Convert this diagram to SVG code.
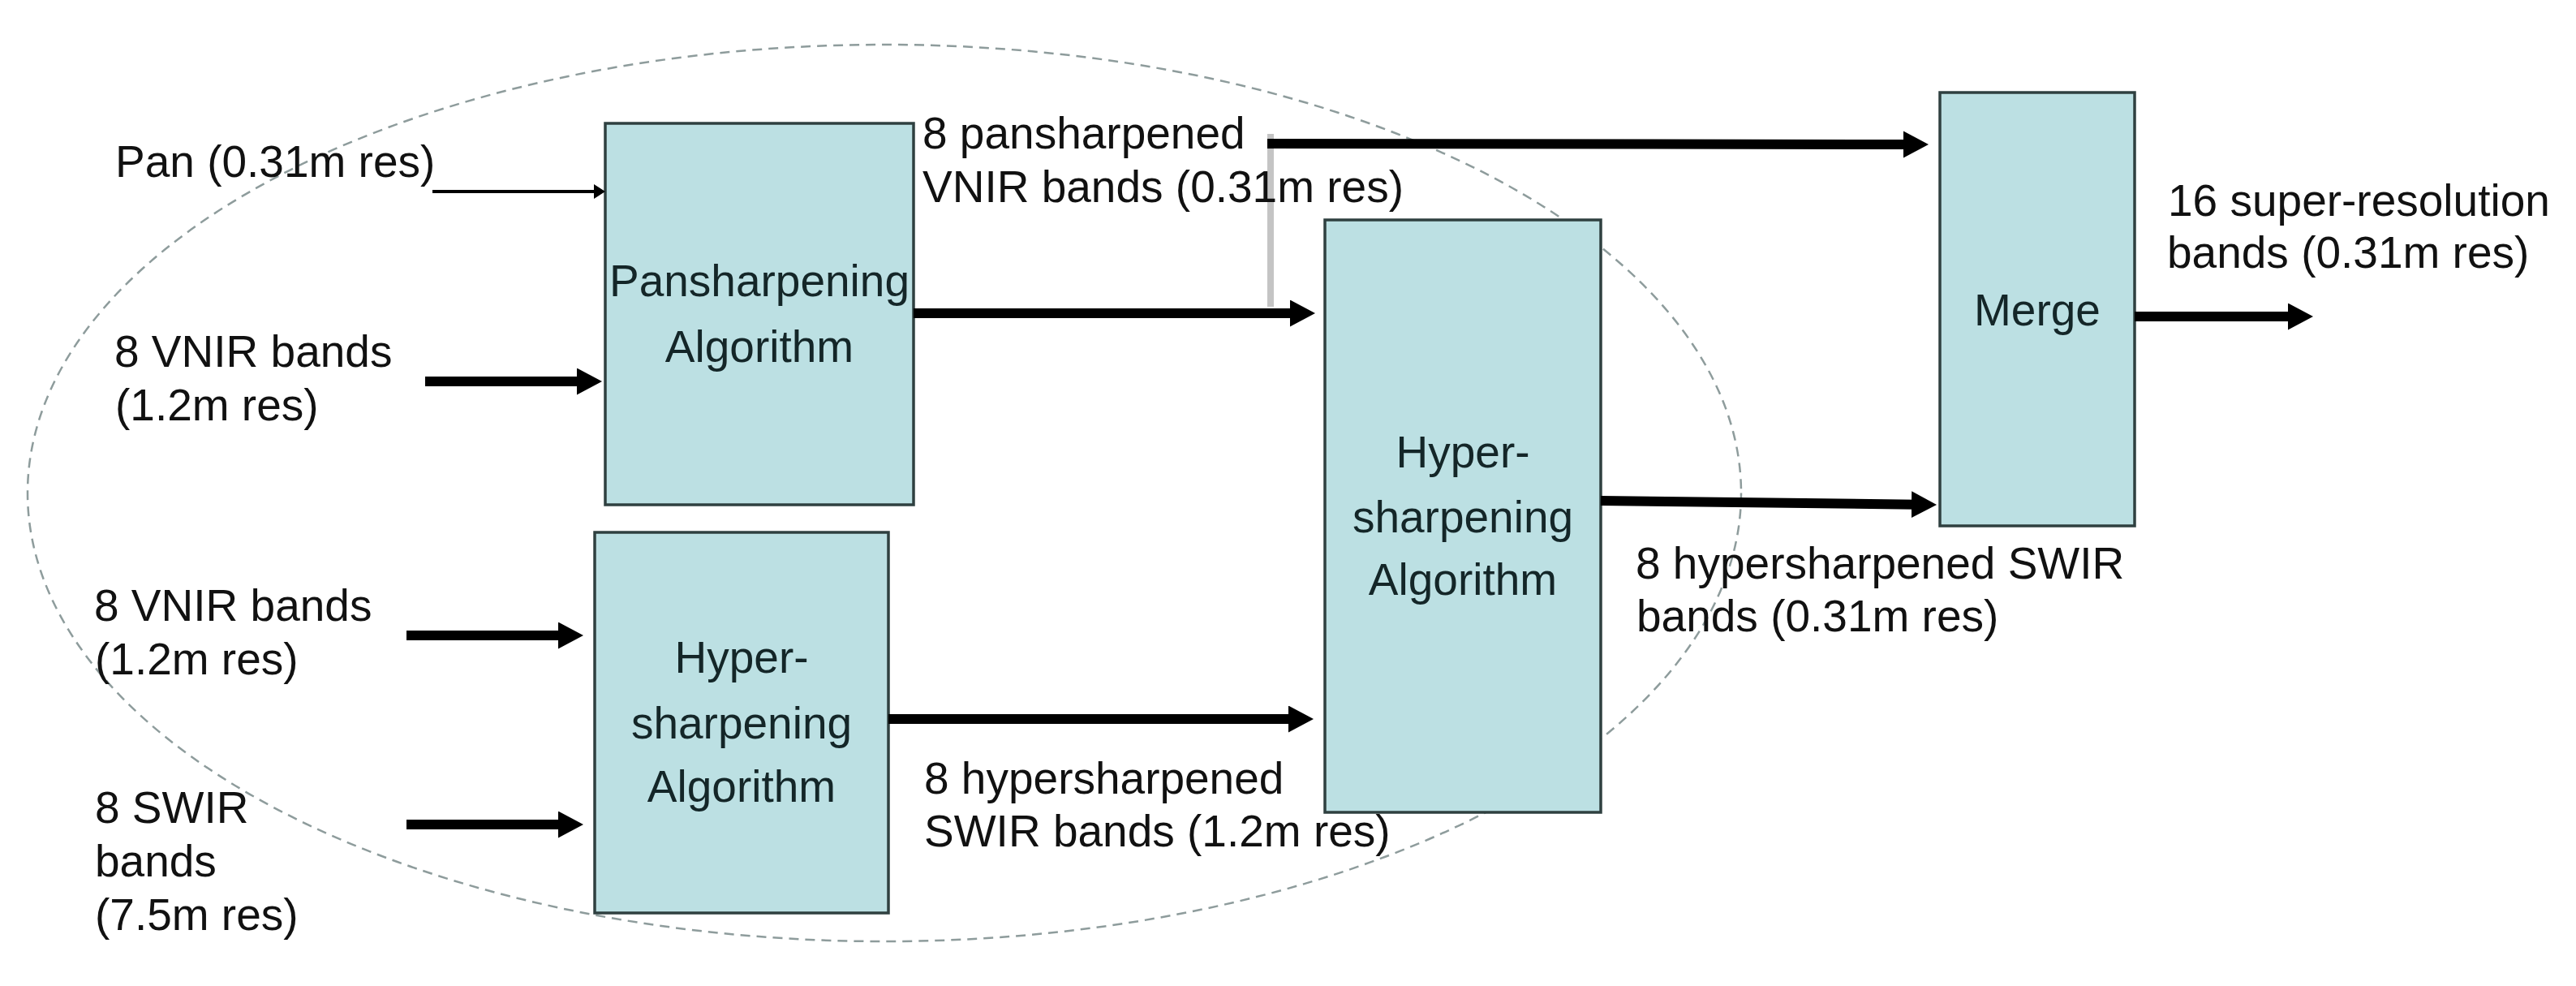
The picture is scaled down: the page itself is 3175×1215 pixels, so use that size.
<svg xmlns="http://www.w3.org/2000/svg" width="3175" height="1215" viewBox="0 0 3175 1215">
  <style>
    .lbl { font-family: "Liberation Sans", Arial, sans-serif; font-size: 55px; fill: #111111; }
    .box { fill: #bce0e3; stroke: #2f4040; stroke-width: 3.5; }
    .btxt { font-family: "Liberation Sans", Arial, sans-serif; font-size: 55px; fill: #142628; text-anchor: middle; }
    .thick { stroke: #000000; stroke-width: 12; fill: none; marker-end: url(#head); }
    .thin { stroke: #000000; stroke-width: 4; fill: none; marker-end: url(#headSmall); }
  </style>
  <defs>
    <marker id="head" markerUnits="userSpaceOnUse" markerWidth="32" markerHeight="34" refX="6" refY="16.5" orient="auto" viewBox="0 0 32 34">
      <path d="M0,0 L31,16.5 L0,33 Z" fill="#000000"/>
    </marker>
    <marker id="headSmall" markerUnits="userSpaceOnUse" markerWidth="15" markerHeight="20" refX="2" refY="9" orient="auto" viewBox="0 0 15 20">
      <path d="M0,0 L14,9 L0,18 Z" fill="#000000"/>
    </marker>
  </defs>
  <rect x="0" y="0" width="3175" height="1215" fill="#ffffff"/>

  <ellipse cx="1090" cy="607.5" rx="1056" ry="552.5" fill="none" stroke="#8e9c9c" stroke-width="2.5" stroke-dasharray="12 8"/>

  <g id="nodes">
    <g id="pansharpening">
      <rect class="box" x="746" y="152" width="380" height="470"/>
      <text class="btxt" x="936" y="365">Pansharpening</text>
      <text class="btxt" x="936" y="446">Algorithm</text>
    </g>
    <g id="hypersharpening1">
      <rect class="box" x="733" y="656" width="362" height="469"/>
      <text class="btxt" x="914" y="829">Hyper-</text>
      <text class="btxt" x="914" y="910">sharpening</text>
      <text class="btxt" x="914" y="988">Algorithm</text>
    </g>
    <g id="hypersharpening2">
      <rect class="box" x="1633" y="271" width="340" height="730"/>
      <text class="btxt" x="1803" y="576">Hyper-</text>
      <text class="btxt" x="1803" y="656">sharpening</text>
      <text class="btxt" x="1803" y="733">Algorithm</text>
    </g>
    <g id="merge">
      <rect class="box" x="2391" y="114" width="240" height="534"/>
      <text class="btxt" x="2511" y="401">Merge</text>
    </g>
  </g>

  <g id="connectors">
    <line x1="1566" y1="165" x2="1566" y2="378" stroke="#c4c4c4" stroke-width="8"/>
    <line class="thin" x1="533" y1="236" x2="734" y2="236"/>
    <line class="thick" x1="524" y1="470" x2="717" y2="470"/>
    <line class="thick" x1="501" y1="783" x2="694" y2="783"/>
    <line class="thick" x1="501" y1="1016" x2="694" y2="1016"/>
    <line class="thick" x1="1126" y1="386" x2="1596" y2="386"/>
    <line class="thick" x1="1095" y1="886" x2="1594" y2="886"/>
    <line class="thick" x1="1562" y1="177" x2="2352" y2="178"/>
    <line class="thick" x1="1973" y1="617" x2="2362" y2="621.7"/>
    <line class="thick" x1="2631" y1="390" x2="2826" y2="390"/>
  </g>

  <g id="labels">
    <text class="lbl" x="142" y="218">Pan (0.31m res)</text>
    <text class="lbl" x="141" y="452">8 VNIR bands</text>
    <text class="lbl" x="142" y="518">(1.2m res)</text>
    <text class="lbl" x="116" y="765">8 VNIR bands</text>
    <text class="lbl" x="117" y="831">(1.2m res)</text>
    <text class="lbl" x="117" y="1014">8 SWIR</text>
    <text class="lbl" x="117" y="1080">bands</text>
    <text class="lbl" x="117" y="1146">(7.5m res)</text>
    <text class="lbl" x="1137" y="183">8 pansharpened</text>
    <text class="lbl" x="1137" y="249">VNIR bands (0.31m res)</text>
    <text class="lbl" x="1139" y="978">8 hypersharpened</text>
    <text class="lbl" x="1139" y="1043">SWIR bands (1.2m res)</text>
    <text class="lbl" x="2016" y="713">8 hypersharpened SWIR</text>
    <text class="lbl" x="2017" y="778">bands (0.31m res)</text>
    <text class="lbl" x="2672" y="266">16 super-resolution</text>
    <text class="lbl" x="2671" y="330">bands (0.31m res)</text>
  </g>
</svg>
